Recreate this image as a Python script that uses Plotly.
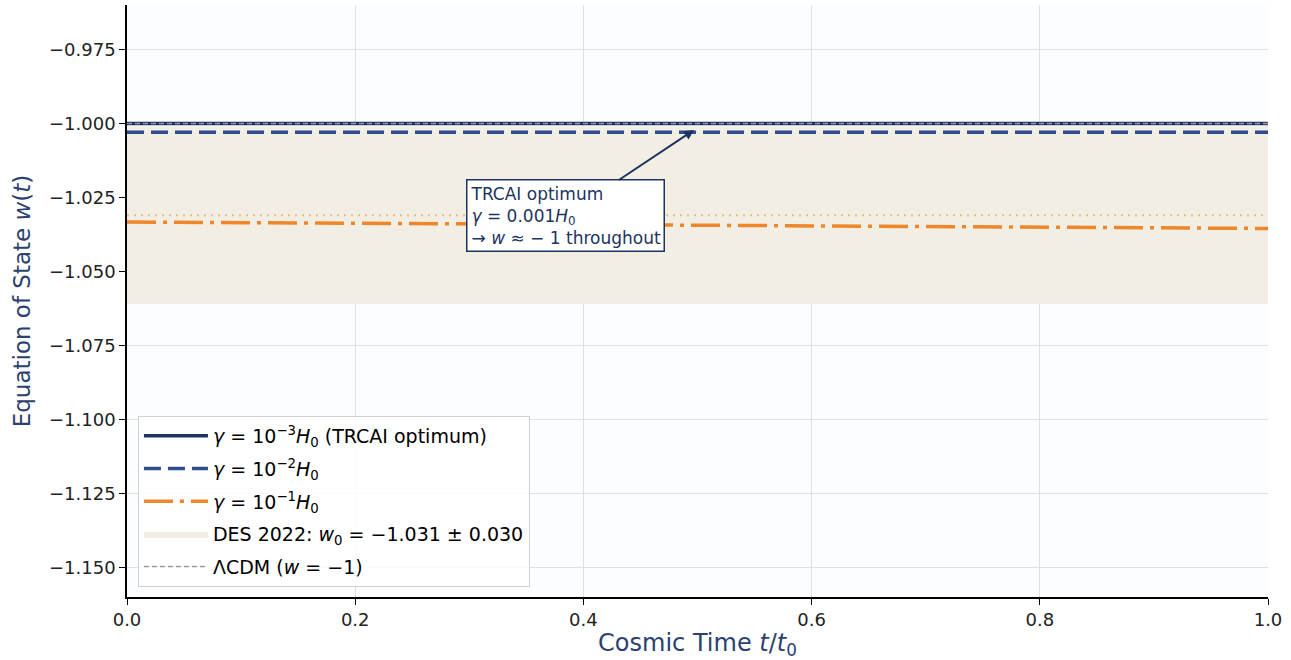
import plotly.graph_objects as go

# ---- data ----
t_vals = [0.0, 0.2, 0.4, 0.6, 0.8, 1.0]
w_gamma_3 = [-1.0000, -1.0000, -1.0000, -1.0000, -1.0000, -1.0000]
w_gamma_2 = [-1.0030, -1.0030, -1.0030, -1.0030, -1.0030, -1.0030]
w_gamma_1 = [-1.0333, -1.0337, -1.0342, -1.0346, -1.0351, -1.0355]
des_w0 = -1.031
des_err = 0.030
lcdm_w = -1.0
x_ticks = [0.0, 0.2, 0.4, 0.6, 0.8, 1.0]
y_ticks = [-0.975, -1.000, -1.025, -1.050, -1.075, -1.100, -1.125, -1.150]

NAVY = "#1d3461"
BLUE = "#2e4d91"
ORANGE = "#f0862a"
TITLE_C = "#2b4270"
FONT = "DejaVu Sans"

fig = go.Figure()

# DES band
fig.add_trace(go.Scatter(
    x=[t_vals[0], t_vals[-1], t_vals[-1], t_vals[0], t_vals[0]],
    y=[des_w0 + des_err, des_w0 + des_err, des_w0 - des_err, des_w0 - des_err, des_w0 + des_err],
    fill="toself", fillcolor="#f2eee3", mode="lines", line=dict(width=0, color="#f2eee3"),
    name="DES 2022: <i>w</i><sub>0</sub> = −1.031 ± 0.030", legendrank=4, legendgroup="g4",
    hoverinfo="skip"))
# DES centre
fig.add_trace(go.Scatter(
    x=[t_vals[0], t_vals[-1]], y=[des_w0, des_w0], mode="lines",
    line=dict(color="#dcc48a", width=2, dash="2px,5px"), showlegend=False, hoverinfo="skip"))

fig.add_trace(go.Scatter(
    x=t_vals, y=w_gamma_3, mode="lines", line=dict(color=NAVY, width=3.5),
    name="<i>γ</i> = 10<sup>−3</sup><i>H</i><sub>0</sub> (TRCAI optimum)", legendrank=1, legendgroup="g1"))
fig.add_trace(go.Scatter(
    x=t_vals, y=w_gamma_2, mode="lines", line=dict(color=BLUE, width=3.5, dash="17px,7px"),
    name="<i>γ</i> = 10<sup>−2</sup><i>H</i><sub>0</sub>", legendrank=2, legendgroup="g2"))
fig.add_trace(go.Scatter(
    x=t_vals, y=w_gamma_1, mode="lines", line=dict(color=ORANGE, width=3.5, dash="29px,7px,4px,7px"),
    name="<i>γ</i> = 10<sup>−1</sup><i>H</i><sub>0</sub>", legendrank=3, legendgroup="g3"))
fig.add_trace(go.Scatter(
    x=[t_vals[0], t_vals[-1]], y=[lcdm_w, lcdm_w], mode="lines",
    line=dict(color="#9a9a9a", width=1.5, dash="5px,3px"),
    name="ΛCDM (<i>w</i> = −1)", legendrank=5, legendgroup="g5"))

fig.add_annotation(
    x=0.497, y=-1.0022, xref="x", yref="y",
    ax=0.384, ay=-1.0312, axref="x", ayref="y",
    text="TRCAI optimum<br><i>γ</i> = 0.001<i>H</i><sub>0</sub><br>→ <i>w</i> ≈ − 1 throughout",
    align="left", showarrow=True, arrowhead=2, arrowsize=1, arrowwidth=2, arrowcolor=NAVY,
    font=dict(family=FONT, size=17, color=NAVY),
    bgcolor="white", bordercolor=NAVY, borderwidth=1.5, borderpad=3)

fig.update_layout(
    width=1291, height=660,
    margin=dict(l=127, r=23, t=5, b=63),
    paper_bgcolor="white", plot_bgcolor="#fcfdff",
    font=dict(family=FONT, size=18, color="black"),
    showlegend=True,
    legend=dict(x=0.0096, y=0.017, xanchor="left", yanchor="bottom",
                bgcolor="rgba(255,255,255,0.85)", bordercolor="#d0d0d0", borderwidth=1,
                font=dict(family=FONT, size=19, color="black"), tracegroupgap=5,
                itemwidth=64),
)
fig.update_xaxes(
    range=[0, 1], tickvals=x_ticks, tickformat=".1f",
    showgrid=True, gridcolor="#dde1e7", gridwidth=1, zeroline=False,
    showline=True, linecolor="black", linewidth=1.5,
    ticks="outside", ticklen=6, tickwidth=1.2, tickcolor="black",
    tickfont=dict(family=FONT, size=18, color="#222"),
    title=dict(text="Cosmic Time <i>t</i>/<i>t</i><sub>0</sub>", font=dict(family=FONT, size=24, color=TITLE_C), standoff=6))
fig.update_yaxes(
    range=[-1.16, -0.96], tickvals=y_ticks, tickformat=".3f",
    showgrid=True, gridcolor="#dde1e7", gridwidth=1, zeroline=False,
    showline=True, linecolor="black", linewidth=1.5,
    ticks="outside", ticklen=6, tickwidth=1.2, tickcolor="black",
    tickfont=dict(family=FONT, size=18, color="#222"),
    title=dict(text="Equation of State <i>w</i>(<i>t</i>)", font=dict(family=FONT, size=23, color=TITLE_C), standoff=12))

fig.write_html("out.html", config={"displayModeBar": False},
               post_script="document.body.style.margin='0';")
